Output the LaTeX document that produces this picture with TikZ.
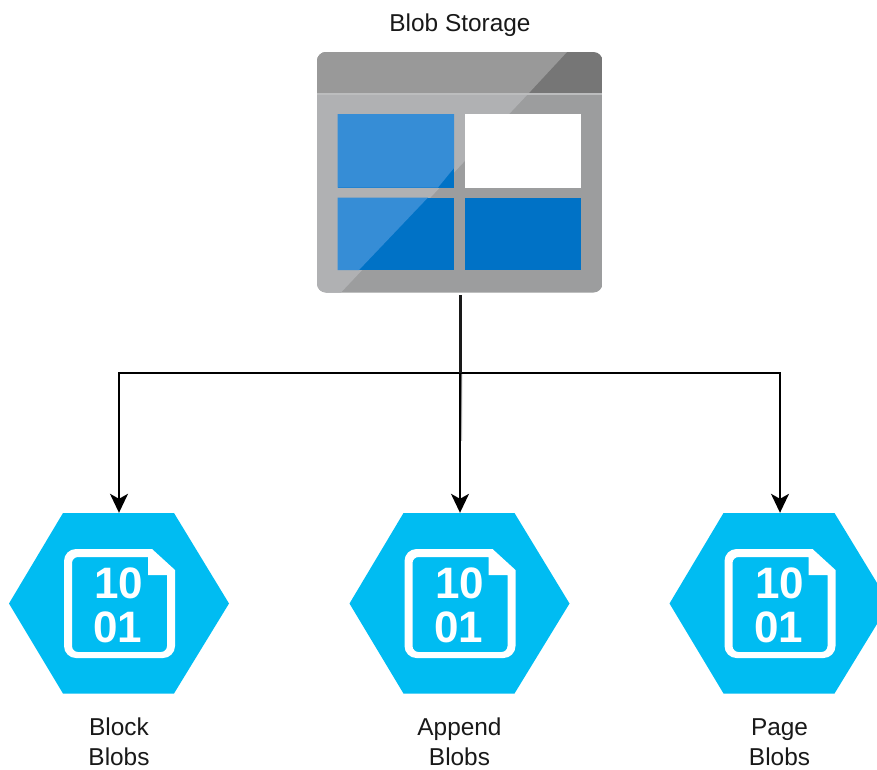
\documentclass[tikz,border=0pt]{standalone}
\usepackage{fontspec}
\setmainfont{Liberation Sans}
\usetikzlibrary{arrows.meta}
\definecolor{hexblue}{HTML}{00BCF2}
\definecolor{barL}{HTML}{999999}
\definecolor{barD}{HTML}{767676}
\definecolor{bodyL}{HTML}{B0B1B3}
\definecolor{bodyD}{HTML}{9C9D9E}
\definecolor{paneL}{HTML}{368DD6}
\definecolor{paneD}{HTML}{0072C6}
\tikzset{
  x=1pt,y=-1pt,
  lab/.style={font=\fontsize{24.4}{29.5}\selectfont,text=black!90,align=center,inner sep=0pt},
  wire/.style={draw=black,line width=1.8pt},
  arrowwire/.style={wire,-{Stealth[length=19pt,width=18pt,inset=5pt]}},
  anchorpt/.style={inner sep=0pt,minimum size=0pt},
  digits/.style={text=white,inner sep=0pt,font=\fontsize{44}{44}\selectfont\bfseries},
}
\newcommand{\blobhex}[4]{% name, center x, label, arrow x
  \begin{scope}[shift={(#2,0)}]
    \fill[hexblue] (-110,603.5) -- (-56,513) -- (55,513) -- (110,603.5) -- (55,693.5) -- (-56,693.5) -- cycle;
    \fill[white,even odd rule]
      (-43,549) -- (33,549) -- (56,570) -- (56,646) arc (0:90:12) -- (-43,658) arc (90:180:12) -- (-55,561) arc (180:270:12) -- cycle
      (-41,557) arc (270:180:6) -- (-47,646) arc (180:90:6) -- (42,652) arc (90:0:6) -- (48,575) -- (29,575) -- (29,557) -- cycle;
    \node[digits] at (0,583) {10};
    \node[digits] at (-1,627) {01};
  \end{scope}
  \node[anchorpt] (#1) at (#4,513) {};
  \node[lab] (#1label) at (#2,742) {#3};
}
\begin{document}
\begin{tikzpicture}
\useasboundingbox (0,0) rectangle (877,769);
\fill[white] (0,0) rectangle (877,769);

\node[lab] (title) at (460,25) {Blob Storage};

% storage icon
\begin{scope}
  \clip[rounded corners=9pt] (317,52) rectangle (602.5,292.5);
  \fill[bodyD] (317,94) rectangle (602.5,292.5);
  \fill[bodyL] (317,94) -- (528,94) -- (341,292.5) -- (317,292.5) -- cycle;
  \fill[barD] (317,52) rectangle (602.5,94);
  \fill[barL] (317,52) -- (567,52) -- (528,94) -- (317,94) -- cycle;
  \fill[bodyL!85!white] (317,93.3) rectangle (602.5,94.5);
\end{scope}
\fill[paneD] (337.5,114) rectangle (454,187.5);
\fill[paneL] (337.5,114) -- (454,114) -- (454,168) -- (438,187.5) -- (337.5,187.5) -- cycle;
\fill[white] (464.5,114) rectangle (581,187.5);
\fill[paneD] (337.5,197.5) rectangle (454,270);
\fill[paneL] (337.5,197.5) -- (428,197.5) -- (359,270) -- (337.5,270) -- cycle;
\fill[paneD] (464.5,197.5) rectangle (581,270);
\node[anchorpt] (storage) at (460.5,295) {};

\blobhex{block}{119}{Block\\Blobs}{119}
\blobhex{append}{459.5}{Append\\Blobs}{460}
\blobhex{page}{779.5}{Page\\Blobs}{780}

% connectors
\coordinate (junction) at (460.5,373);
\coordinate (fadetop) at (459,373);
\coordinate (fadeend) at (462,440);
\shade[top color=black!60,bottom color=black!25] (fadetop) rectangle (fadeend);
\draw[arrowwire] (junction) -| (block);
\draw[arrowwire] (junction) -| (page);
\draw[arrowwire] (append |- junction) -- (append);
\draw[draw=black!90,line width=3pt] (storage) -- (junction);
\end{tikzpicture}
\end{document}
